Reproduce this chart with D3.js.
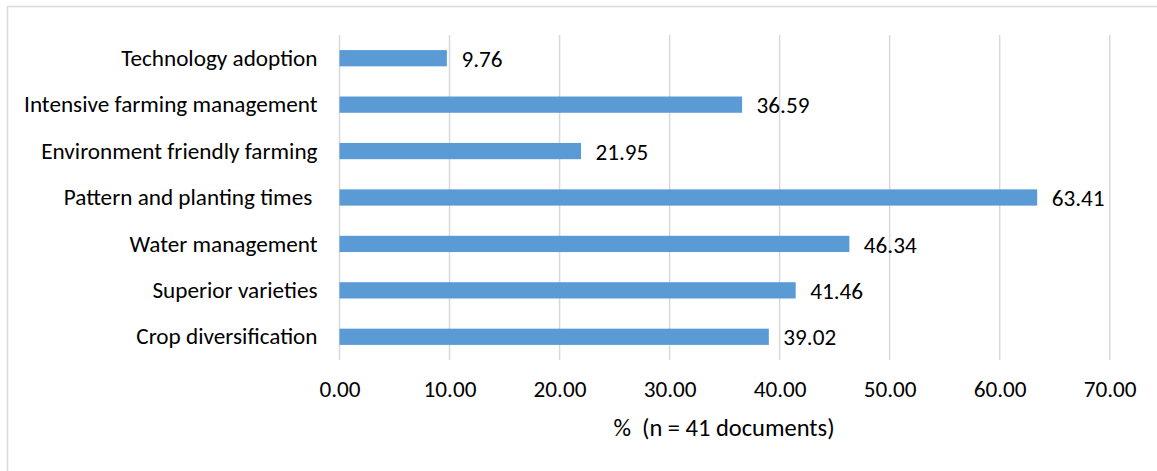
<!DOCTYPE html>
<meta charset="utf-8">
<head>
<script src="https://d3js.org/d3.v7.min.js"></script>
<style>
body { margin: 0; background: #fff; }
svg { display: block; font-family: Carlito, Lato, "Open Sans", sans-serif; }
text { white-space: pre; }
</style>
</head>
<body>
<script>
    // data
    categories = ["Technology adoption", "Intensive farming management", "Environment friendly farming",
                  "Pattern and planting times ", "Water management", "Superior varieties", "Crop diversification"]
    values = [9.76, 36.59, 21.95, 63.41, 46.34, 41.46, 39.02]
    xTicks = [0, 10, 20, 30, 40, 50, 60, 70]
    xTitle = "%  (n = 41 documents)"

    width = 1157
    height = 471
    margin = ({top: 35, right: 47.3, bottom: 111, left: 339.5})
    fontSize = 23.2

    var svg = d3.select("body").append("svg")
      .attr("width", width)
      .attr("height", height)

    // chart frame (right/bottom edges fall outside the picture)
    svg.append("rect")
      .attr("x", 7.5).attr("y", 6.5)
      .attr("width", width + 10).attr("height", height + 10)
      .attr("fill", "none")
      .attr("stroke", "#d9d9d9")
      .attr("stroke-width", 1.5)

    x = d3.scaleLinear()
      .domain([0, 70])
      .range([margin.left, width - margin.right])

    y = d3.scaleBand()
      .domain(categories)
      .range([margin.top, height - margin.bottom])
      .paddingInner(0.65)
      .paddingOuter(0.325)

    // gridlines
    svg.append("g")
      .selectAll("line")
      .data(xTicks)
      .join("line")
        .attr("x1", d => x(d))
        .attr("x2", d => x(d))
        .attr("y1", margin.top)
        .attr("y2", height - margin.bottom)
        .attr("stroke", "#d9d9d9")
        .attr("stroke-width", 1.5)

    // x axis tick labels
    svg.append("g")
      .attr("transform", `translate(0,${height - margin.bottom})`)
      .call(d3.axisBottom(x).tickValues(xTicks).tickFormat(d3.format(".2f")).tickSize(0).tickPadding(0))
      .attr("font-family", null)
      .attr("font-size", fontSize)
      .call(g => g.select(".domain").remove())
      .call(g => g.selectAll("text")
        .attr("dy", null)
        .attr("y", 37)
        .attr("fill", "#000"))

    svg.append("text")
      .attr("x", 724)
      .attr("y", 436)
      .attr("text-anchor", "middle")
      .attr("font-size", 24.5)
      .attr("fill", "#000")
      .text(xTitle)

    // category labels
    svg.append("g")
      .attr("transform", `translate(${margin.left},0)`)
      .call(d3.axisLeft(y).tickSize(0).tickPadding(22))
      .attr("font-family", null)
      .attr("font-size", fontSize)
      .call(g => g.select(".domain").remove())
      .call(g => g.selectAll("text")
        .attr("dy", "0.33em")
        .attr("fill", "#000"))

    // bars
    svg.append("g")
      .selectAll("rect")
      .data(values)
      .join("rect")
        .attr("x", x(0))
        .attr("y", (d, i) => y(categories[i]))
        .attr("width", d => x(d) - x(0))
        .attr("height", y.bandwidth())
        .attr("fill", "#5b9bd5")

    // value labels
    svg.append("g")
      .selectAll("text")
      .data(values)
      .join("text")
        .attr("x", d => x(d) + 14.5)
        .attr("y", (d, i) => y(categories[i]) + y.bandwidth() / 2 + 1)
        .attr("dy", "0.33em")
        .attr("font-size", fontSize)
        .attr("fill", "#000")
        .text(d => d.toFixed(2))
</script>
</body>
